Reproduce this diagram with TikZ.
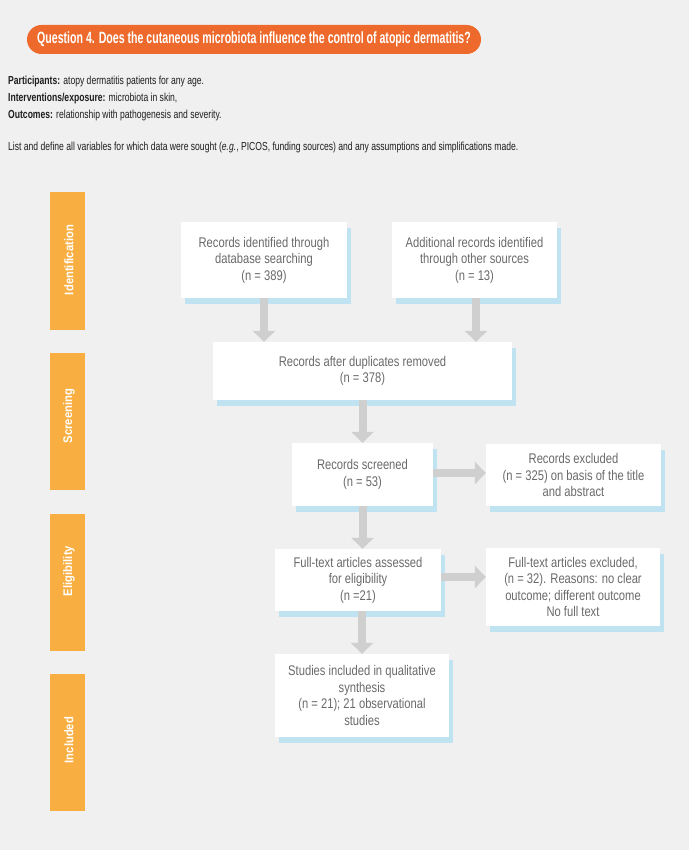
\documentclass[tikz,border=0pt]{standalone}
\usepackage{fontspec}
\setmainfont{Liberation Sans}
\newfontfamily\titlefont[FakeStretch=0.65]{Liberation Sans}
\newfontfamily\bodyfont[FakeStretch=0.74]{Liberation Sans}
\newfontfamily\boxfont[FakeStretch=0.80]{Liberation Sans}
\newfontfamily\sidefont[FakeStretch=0.90]{Liberation Sans}
\usetikzlibrary{arrows.meta,shadows}
\definecolor{bg}{HTML}{F0F0F0}
\definecolor{pill}{HTML}{EE6A2C}
\definecolor{side}{HTML}{F8AE41}
\definecolor{shad}{HTML}{BFE3F0}
\definecolor{boxtext}{HTML}{6A6A6A}
\definecolor{arr}{HTML}{CFCFCF}
\definecolor{bodytext}{HTML}{1E1E1E}
\begin{document}
\begin{tikzpicture}[x=1pt,y=-1pt,
  flowbox/.style={rectangle, fill=white, draw=none, align=center, text=boxtext,
    font=\boxfont\fontsize{14}{16.4}\selectfont, inner sep=2pt,
    copy shadow={shadow xshift=4pt, shadow yshift=-6pt, fill=shad, draw=none}},
  sidebar/.style={rectangle, fill=side, draw=none, minimum width=35pt, minimum height=137pt, inner sep=0pt},
  sidelabel/.style={rotate=90, text=white, font=\sidefont\bfseries\fontsize{12.5}{14}\selectfont},
  garrow/.style={draw=arr, line width=8pt, -{Triangle[width=22pt,length=11pt]}},
  bodyline/.style={anchor=west, text=bodytext, font=\bodyfont\fontsize{11.6}{13}\selectfont, inner sep=0pt}
]
\fill[bg] (0,0) rectangle (689,850);
\useasboundingbox (0,0) rectangle (689,850);

% title
\node[fill=pill, rounded corners=14.5pt, minimum width=454pt, minimum height=29pt, inner sep=0pt,
  text=white, font=\titlefont\bfseries\fontsize{16.3}{19}\selectfont] (title) at (254,39.5)
  {Question 4. Does the cutaneous microbiota influence the control of atopic dermatitis?};

% body text
\node[bodyline] (p1) at (8,82) {\textbf{Participants:} atopy dermatitis patients for any age.};
\node[bodyline] (p2) at (8,99) {\textbf{Interventions/exposure:} microbiota in skin,};
\node[bodyline] (p3) at (8,116) {\textbf{Outcomes:} relationship with pathogenesis and severity.};
\node[bodyline] (p4) at (8,148) {List and define all variables for which data were sought (\textit{e.g.}, PICOS, funding sources) and any assumptions and simplifications made.};

% side bars
\node[sidebar] (s1) at (67.5,261) {};
\node[sidebar] (s2) at (67.5,421.5) {};
\node[sidebar] (s3) at (67.5,582.5) {};
\node[sidebar] (s4) at (67.5,742.5) {};
\node[sidelabel] (l1) at (69,260) {Identification};
\node[sidelabel] (l2) at (69,416) {Screening};
\node[sidelabel] (l3) at (69,571) {Eligibility};
\node[sidelabel] (l4) at (69,740) {Included};

% boxes
\node[flowbox, minimum width=166pt, minimum height=76pt] (b1) at (264,260)
  {Records identified through\\database searching\\(n = 389)};
\node[flowbox, minimum width=165pt, minimum height=76pt] (b2) at (474.5,260)
  {Additional records identified\\through other sources\\(n = 13)};
\node[flowbox, minimum width=299pt, minimum height=58pt] (b3) at (362.5,371)
  {Records after duplicates removed\\(n = 378)};
\node[flowbox, minimum width=141pt, minimum height=63pt] (b4) at (362.5,474.5)
  {Records screened\\(n = 53)};
\node[flowbox, minimum width=175pt, minimum height=62pt] (b5) at (573.5,475)
  {Records excluded\\(n = 325) on basis of the title\\and abstract};
\node[flowbox, minimum width=166pt, minimum height=62pt] (b6) at (358,580)
  {Full-text articles assessed\\for eligibility\\(n =21)};
\node[flowbox, minimum width=174pt, minimum height=78pt] (b7) at (573,587)
  {Full-text articles excluded,\\(n = 32). Reasons: no clear\\outcome; different outcome\\No full text};
\node[flowbox, minimum width=174pt, minimum height=83pt] (b8) at (362,695.5)
  {Studies included in qualitative\\synthesis\\(n = 21); 21 observational\\studies};

% arrows
\draw[garrow] (b1.south) -- (b1.south |- b3.north);
\draw[garrow] ([xshift=1.5pt]b2.south) -- ([xshift=1.5pt]b2.south |- b3.north);
\draw[garrow] (b3.south) -- (b3.south |- b4.north);
\draw[garrow] (b4.south) -- (b4.south |- b6.north);
\draw[garrow] (b8.north |- b6.south) -- (b8.north);
\draw[garrow] ([yshift=1.5pt]b4.east) -- ([yshift=1.5pt]b4.east -| b5.west);
\draw[garrow] ([yshift=3pt]b6.east) -- ([yshift=3pt]b6.east -| b7.west);
\end{tikzpicture}
\end{document}
